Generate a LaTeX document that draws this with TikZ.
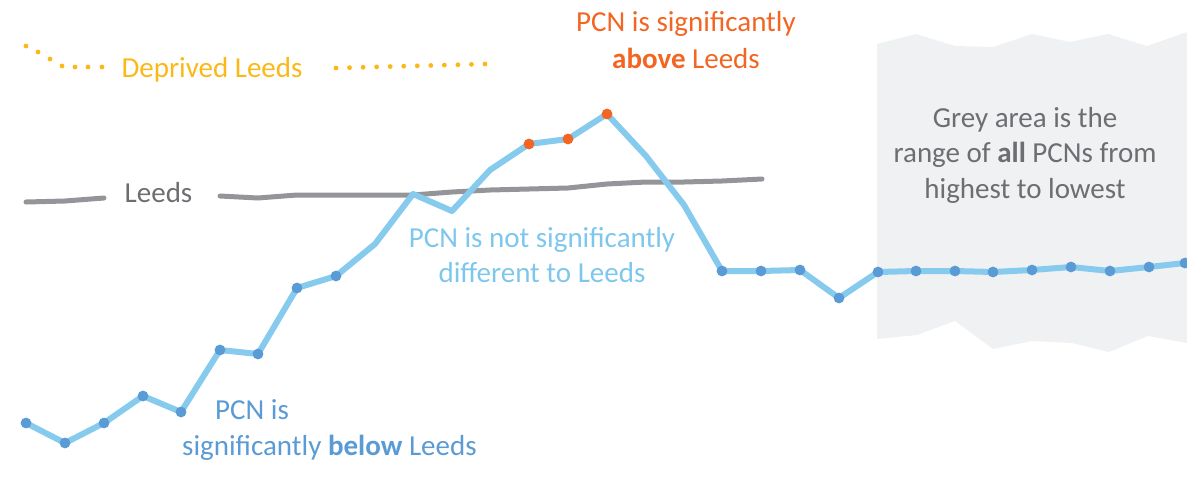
\documentclass[tikz,border=0pt]{standalone}
\usepackage{fontspec}
\setmainfont{Carlito}
\definecolor{lineblue}{HTML}{86CBED}
\definecolor{dotblue}{HTML}{5B9BD5}
\definecolor{dotorange}{HTML}{F26522}
\definecolor{leedsgrey}{HTML}{939598}
\definecolor{txtgrey}{HTML}{6D6E71}
\definecolor{gold}{HTML}{FBB817}
\definecolor{areagrey}{HTML}{F0F1F3}
\definecolor{txtlightblue}{HTML}{7EC7EC}
\begin{document}
\begin{tikzpicture}[x=1pt,y=-1pt,
  bigtext/.style={inner sep=0pt,font=\fontsize{29}{35.5}\selectfont},
  blueline/.style={draw=lineblue,line width=6pt,line cap=round,line join=round},
  greyline/.style={draw=leedsgrey,line width=5pt,line cap=round,line join=round},
  bluedot/.style={fill=dotblue},
  orangedot/.style={fill=dotorange},
  golddot/.style={fill=gold}]
\useasboundingbox (0,0) rectangle (1187,483);

% grey range area
\fill[areagrey] (877,44) -- (916,34) -- (955,46) -- (993,47) -- (1032,34) -- (1070,42)
  -- (1108,34) -- (1147,46) -- (1187,32) -- (1190,32) -- (1190,343) -- (1187,343)
  -- (1148,336) -- (1109,352) -- (1072,343) -- (1032,341) -- (993,349) -- (955,321)
  -- (917,335) -- (877,339) -- cycle;
\node[bigtext,text=txtgrey,align=center] (greytxt) at (1025,155)
  {Grey area is the\\range of \textbf{all} PCNs from\\highest to lowest};

% Leeds line
\foreach \x/\y [count=\i] in {26/202,65/201,104/198,220/196,258/198,297/195,336/195,375/195,413/195,452/192,490/190,529/189,568/188,607/184,646/182,684/182,722/181,762/179}
  {\coordinate (g\i) at (\x,\y);}
\draw[greyline] (g1) -- (g2) -- (g3);
\draw[greyline] (g4) \foreach \i in {5,...,18}{ -- (g\i)};
\node[bigtext,text=txtgrey,anchor=base] (leedslbl) at (158.5,202) {Leeds};

% Deprived Leeds dotted line
\foreach \x/\y [count=\i] in {26/46,38/52,50/59,62/66,75/67,88/67,102/67}
  {\fill[golddot] (\x,\y) circle[radius=2.4pt];}
\foreach \i in {0,...,11}
  {\fill[golddot] (336+\i*13.545,68-\i*0.3636) circle[radius=2.4pt];}
\node[bigtext,text=gold,anchor=base] (deplbl) at (212,77) {Deprived Leeds};

% PCN line
\foreach \x/\y [count=\i] in {26/423,65/443,104/423,143/396,181/412,220/350,258/354,297/288,336/276,375/244,413/194,452/211,490/170,529/144,568/139,607/114,646/156,684/205,722/271,761/271,800/270,839/298,878/272,916/271,955/271,993/272,1032/270,1071/267,1110/271,1149/267,1185/263}
  {\coordinate (b\i) at (\x,\y);}
\draw[blueline] (b1) \foreach \i in {2,...,31}{ -- (b\i)};
\foreach \i in {1,...,9,19,20,...,31}
  {\fill[bluedot] (b\i) circle[radius=5.4pt];}
\foreach \i in {14,15,16}
  {\fill[orangedot] (b\i) circle[radius=5.4pt];}

% labels
\node[bigtext,text=dotorange,align=center,font=\fontsize{29}{37}\selectfont] (abovetxt) at (686,40)
  {PCN is significantly\\\textbf{above} Leeds};
\node[bigtext,text=txtlightblue,align=center] (nottxt) at (542,255)
  {PCN is not significantly\\different to Leeds};
\node[bigtext,text=dotblue,align=left,anchor=west] (belowtxt) at (182,430)
  {\hspace*{33pt}PCN is\\significantly \textbf{below} Leeds};
\end{tikzpicture}
\end{document}
